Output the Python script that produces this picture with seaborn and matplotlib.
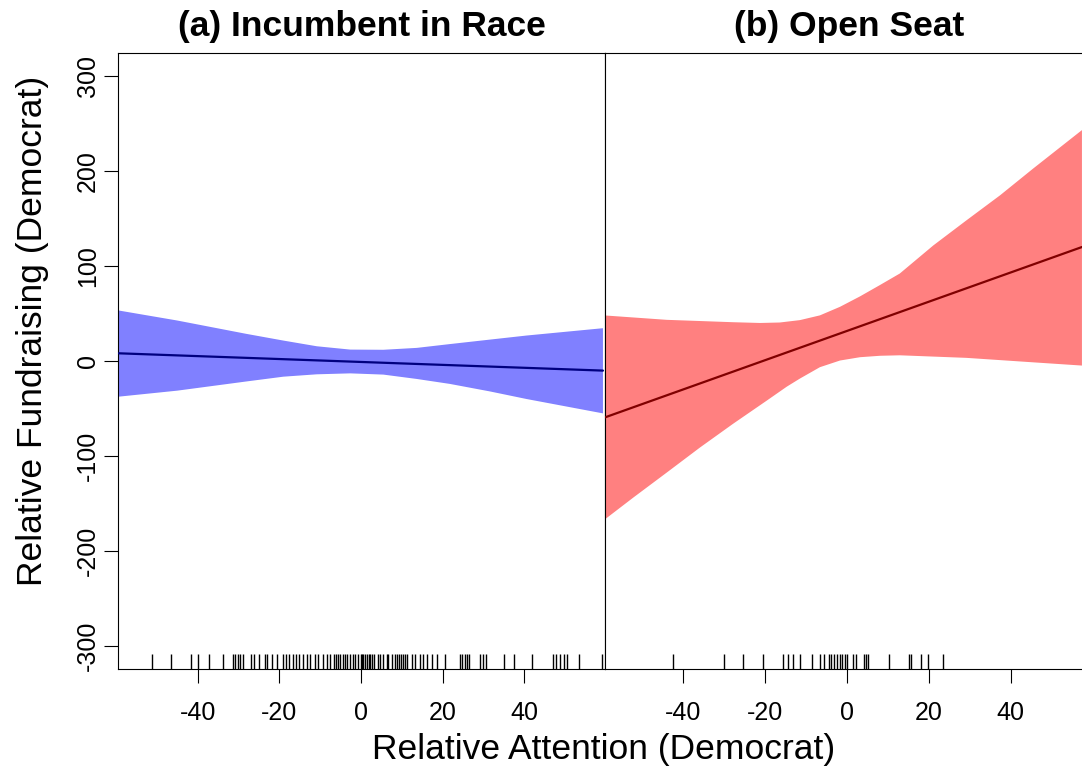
import numpy as np
import pandas as pd
import matplotlib
matplotlib.use("Agg")
import matplotlib.pyplot as plt
import seaborn as sns

# ---------------- data ----------------
titles = ["(a) Incumbent in Race", "(b) Open Seat"]
x_label = "Relative Attention (Democrat)"
y_label = "Relative Fundraising (Democrat)"
x_ticks = [-40, -20, 0, 20, 40]
y_ticks = [-300, -200, -100, 0, 100, 200, 300]

# Panel (a): fitted line and confidence band
a_line_x = [-59.3, 59.3]
a_line_y = [8.1, -10.1]
a_band_x = [-59.3, -45.0, -28.0, -19.0, -10.8, -2.6, 5.5, 13.7, 21.8, 31.6, 40.6, 59.3]
a_band_hi = [53.1, 42.6, 28.5, 21.5, 15.5, 12.0, 11.8, 13.8, 17.8, 22.5, 26.8, 34.5]
a_band_lo = [-37.5, -31.2, -21.5, -16.5, -14.0, -13.0, -14.3, -18.9, -24.1, -32.0, -40.0, -55.1]
a_rug = [-51.2, -46.4, -41.7, -39.8, -37.2, -33.9, -31.4, -30.8, -30.2, -29.5, -28.9,
         -27.0, -26.1, -24.9, -23.6, -23.1, -21.8, -20.6, -19.2, -18.3, -17.5, -16.7,
         -15.9, -15.1, -14.1, -13.3, -12.4, -11.2, -10.4, -9.2, -8.4, -7.5,
         -6.5, -6.0, -5.5, -5.0, -4.5, -4.0, -3.5, -2.6, -2.0, -1.4, -0.6, 0.0,
         0.2, 0.6, 1.1, 1.5, 1.9, 2.3, 2.7, 3.1, 4.3, 4.7, 5.5, 6.3, 6.7, 7.6,
         8.4, 8.9, 9.4, 9.9, 10.4, 10.8, 11.2, 12.5, 13.3, 14.5, 15.3, 16.1, 17.4,
         18.6, 20.6, 24.3, 24.7, 25.5, 26.1, 26.6, 29.2, 29.8, 30.6, 35.0, 37.5,
         42.0, 47.1, 47.9, 48.7, 49.7, 50.4, 53.4, 59.1]

# Panel (b): fitted line and confidence band
b_line_x = [-59.1, 57.4]
b_line_y = [-59.3, 119.9]
b_hi_x = [-59.1, -44.0, -27.8, -21.2, -16.4, -11.5, -6.6, -1.7, 3.2, 8.1, 12.9,
          21.1, 29.2, 37.4, 45.5, 57.4]
b_band_hi = [47.9, 43.3, 40.8, 40.0, 40.5, 43.0, 48.0, 57.0, 68.0, 80.0, 92.0,
             121.6, 148.0, 174.3, 202.5, 242.9]
b_lo_x = [-59.1, -52.2, -44.0, -35.9, -27.8, -19.6, -14.7, -11.5, -6.6, -1.7, 3.2,
          8.1, 12.9, 29.2, 45.5, 57.4]
b_band_lo = [-166.5, -143.7, -117.3, -91.0, -66.0, -41.7, -27.0, -18.5, -6.5, 0.5, 4.0,
             5.5, 6.0, 3.3, -1.4, -4.8]
b_rug = [-42.6, -30.0, -25.5, -20.4, -15.7, -14.5, -13.3, -11.5, -8.5, -6.6, -5.6,
         -4.5, -3.8, -3.1, -2.4, -1.7, -1.1, -0.5, 0.0, 1.5, 2.2, 4.2, 4.7, 5.2,
         10.3, 15.2, 15.6, 18.0, 19.9, 23.4]

# ---------------- style ----------------
sns.set_theme(style="white")
plt.rcParams["font.family"] = ["Liberation Sans", "DejaVu Sans"]
plt.rcParams["text.color"] = "black"
plt.rcParams["axes.labelcolor"] = "black"
plt.rcParams["xtick.color"] = "black"
plt.rcParams["ytick.color"] = "black"

W, H = 1082, 770
fig = plt.figure(figsize=(W / 100, H / 100), dpi=100)

axA = fig.add_axes([118 / W, 101 / H, 487 / W, 616 / H])
axB = fig.add_axes([605 / W, 101 / H, 488 / W, 616 / H])

panels = [
    (axA, a_line_x, a_line_y, a_band_x, a_band_hi, a_band_x, a_band_lo, a_rug,
     "#8080FF", "#000080", (-59.5, 59.8)),
    (axB, b_line_x, b_line_y, b_hi_x, b_band_hi, b_lo_x, b_band_lo, b_rug,
     "#FF8080", "#800000", (-59.1, 60.1)),
]

for i, (ax, lx, ly, hx, hy, lox, loy, rug, fill_c, line_c, xl) in enumerate(panels):
    px = list(hx) + list(lox)[::-1]
    py = list(hy) + list(loy)[::-1]
    ax.fill(px, py, color=fill_c, lw=0, zorder=1)
    sns.lineplot(x=lx, y=ly, ax=ax, color=line_c, lw=1.6, zorder=3)
    sns.rugplot(x=rug, ax=ax, height=0.024, color="black", lw=1.2,
                expand_margins=False, zorder=4)
    ax.set_xlim(*xl)
    ax.set_ylim(-324, 324)
    ax.set_xticks(x_ticks)
    ax.set_xticklabels([str(t) for t in x_ticks])
    ax.tick_params(axis="x", direction="out", length=10, width=0.8, pad=13,
                   labelsize=18, colors="black", bottom=True)
    ax.set_title(titles[i], fontsize=25.5, fontweight="bold", pad=12, color="black")
    for s in ax.spines.values():
        s.set_color("black")
        s.set_linewidth(0.8)
    ax.grid(False)
    ax.set_xlabel("")
    ax.set_ylabel("")

axA.set_yticks(y_ticks)
axA.set_yticklabels([str(t) for t in y_ticks], rotation=90, va="center")
axA.tick_params(axis="y", direction="out", length=10, width=0.8, pad=3,
                labelsize=18, colors="black", left=True)
axB.set_yticks([])
axB.spines["right"].set_visible(False)

fig.text(604 / W, 1 - 750 / H, x_label, ha="center", va="center", fontsize=25.5,
         color="black")
fig.text(33 / W, 1 - 331 / H, y_label, ha="center", va="center",
         fontsize=25.5, rotation=90, color="black")

fig.savefig("out.png", dpi=100)
